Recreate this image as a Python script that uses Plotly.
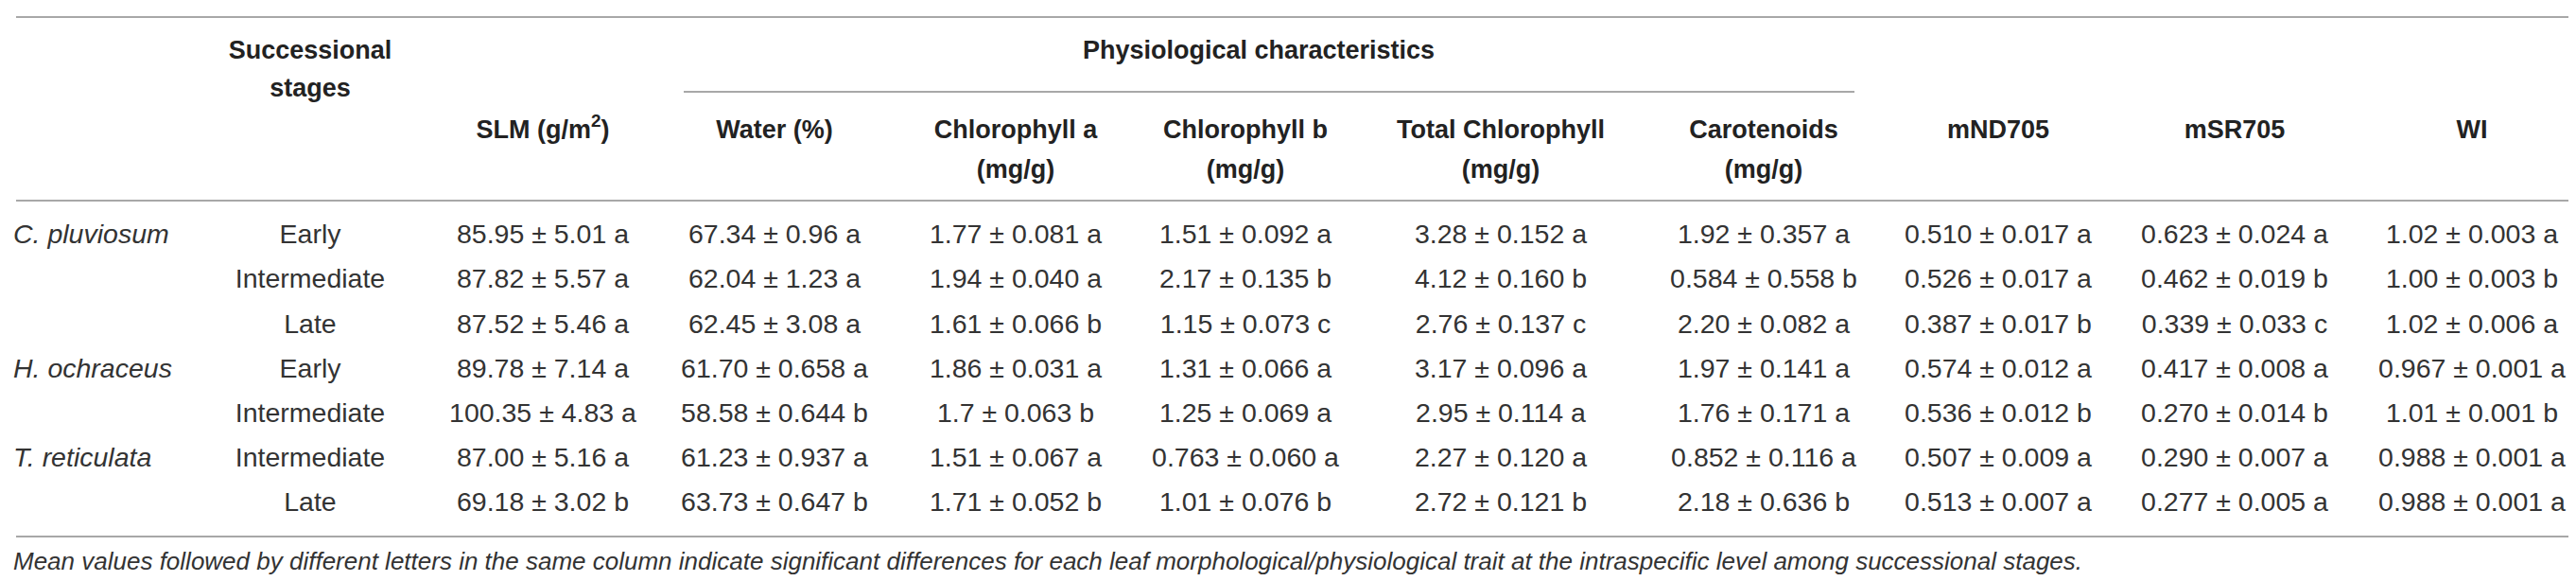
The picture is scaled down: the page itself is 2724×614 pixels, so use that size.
import plotly.graph_objs as go

# table content
species = ['C. pluviosum', '', '', 'H. ochraceus', '', 'T. reticulata', '']
stages = ['Early', 'Intermediate', 'Late', 'Early', 'Intermediate', 'Intermediate', 'Late']

slm = ['85.95 ± 5.01 a', '87.82 ± 5.57 a', '87.52 ± 5.46 a', '89.78 ± 7.14 a',
       '100.35 ± 4.83 a', '87.00 ± 5.16 a', '69.18 ± 3.02 b']
water = ['67.34 ± 0.96 a', '62.04 ± 1.23 a', '62.45 ± 3.08 a', '61.70 ± 0.658 a',
         '58.58 ± 0.644 b', '61.23 ± 0.937 a', '63.73 ± 0.647 b']
chl_a = ['1.77 ± 0.081 a', '1.94 ± 0.040 a', '1.61 ± 0.066 b', '1.86 ± 0.031 a',
         '1.7 ± 0.063 b', '1.51 ± 0.067 a', '1.71 ± 0.052 b']
chl_b = ['1.51 ± 0.092 a', '2.17 ± 0.135 b', '1.15 ± 0.073 c', '1.31 ± 0.066 a',
         '1.25 ± 0.069 a', '0.763 ± 0.060 a', '1.01 ± 0.076 b']
chl_total = ['3.28 ± 0.152 a', '4.12 ± 0.160 b', '2.76 ± 0.137 c', '3.17 ± 0.096 a',
             '2.95 ± 0.114 a', '2.27 ± 0.120 a', '2.72 ± 0.121 b']
carotenoids = ['1.92 ± 0.357 a', '0.584 ± 0.558 b', '2.20 ± 0.082 a', '1.97 ± 0.141 a',
               '1.76 ± 0.171 a', '0.852 ± 0.116 a', '2.18 ± 0.636 b']
mnd705 = ['0.510 ± 0.017 a', '0.526 ± 0.017 a', '0.387 ± 0.017 b', '0.574 ± 0.012 a',
          '0.536 ± 0.012 b', '0.507 ± 0.009 a', '0.513 ± 0.007 a']
msr705 = ['0.623 ± 0.024 a', '0.462 ± 0.019 b', '0.339 ± 0.033 c', '0.417 ± 0.008 a',
          '0.270 ± 0.014 b', '0.290 ± 0.007 a', '0.277 ± 0.005 a']
wi = ['1.02 ± 0.003 a', '1.00 ± 0.003 b', '1.02 ± 0.006 a', '0.967 ± 0.001 a',
      '1.01 ± 0.001 b', '0.988 ± 0.001 a', '0.988 ± 0.001 a']

header_line1 = ['SLM (g/m<sup>2</sup>)', 'Water (%)', 'Chlorophyll a', 'Chlorophyll b',
                'Total Chlorophyll', 'Carotenoids', 'mND705', 'mSR705', 'WI']
header_line2 = ['', '', '(mg/g)', '(mg/g)', '(mg/g)', '(mg/g)', '', '', '']
group_header = 'Physiological characteristics'
stage_header = ['Successional', 'stages']
footnote = ('Mean values followed by different letters in the same column indicate significant '
            'differences for each leaf morphological/physiological trait at the intraspecific '
            'level among successional stages.')

# layout (pixels)
W, H = 2724, 614
col_x = [566, 811, 1066, 1309, 1579, 1857, 2105, 2355, 2606]
species_x = 6
stage_x = 320
group_x = 1323
row0, row_h = 242, 47.2
text_color = '#333333'
head_color = '#222222'
rule_color = '#a8a8a8'
body_font = 'Liberation Sans, Arial, sans-serif'
body_size = 28.5
head_size = 27

value_cols = [slm, water, chl_a, chl_b, chl_total, carotenoids, mnd705, msr705, wi]
row_y = [row0 + i * row_h for i in range(len(stages))]

traces = []
sp_rows = [(s, y) for s, y in zip(species, row_y) if s]
traces.append(go.Scatter(
    x=[species_x] * len(sp_rows), y=[y for s, y in sp_rows],
    text=['<i>%s</i>' % s for s, y in sp_rows],
    mode='text', textposition='middle right',
    textfont=dict(family=body_font, size=body_size, color=text_color)
))
traces.append(go.Scatter(
    x=[stage_x] * len(stages), y=row_y, text=stages,
    mode='text', textposition='middle center',
    textfont=dict(family=body_font, size=body_size, color=text_color)
))
for x, col in zip(col_x, value_cols):
    traces.append(go.Scatter(
        x=[x] * len(col), y=row_y, text=col,
        mode='text', textposition='middle center',
        textfont=dict(family=body_font, size=body_size, color=text_color)
    ))

# headers
traces.append(go.Scatter(
    x=[stage_x, stage_x, group_x], y=[47, 87, 47],
    text=['<b>%s</b>' % t for t in stage_header + [group_header]],
    mode='text', textposition='middle center',
    textfont=dict(family=body_font, size=head_size, color=head_color)
))
traces.append(go.Scatter(
    x=col_x, y=[131] * len(col_x),
    text=['<b>%s</b>' % t for t in header_line1],
    mode='text', textposition='middle center',
    textfont=dict(family=body_font, size=head_size, color=head_color)
))
sub = [(x, t) for x, t in zip(col_x, header_line2) if t]
traces.append(go.Scatter(
    x=[x for x, t in sub], y=[173] * len(sub),
    text=['<b>%s</b>' % t for x, t in sub],
    mode='text', textposition='middle center',
    textfont=dict(family=body_font, size=head_size, color=head_color)
))

traces.append(go.Scatter(
    x=[species_x], y=[587], text=['<i>%s</i>' % footnote],
    mode='text', textposition='middle right',
    textfont=dict(family=body_font, size=26, color=text_color)
))

line = dict(color=rule_color, width=2)
shapes = [
    dict(type='line', xref='x', yref='y', x0=9, x1=2716, y0=10, y1=10, line=line),
    dict(type='line', xref='x', yref='y', x0=715, x1=1953, y0=89, y1=89, line=line),
    dict(type='line', xref='x', yref='y', x0=9, x1=2716, y0=204, y1=204, line=line),
    dict(type='line', xref='x', yref='y', x0=9, x1=2716, y0=559, y1=559, line=line),
]

layout = go.Layout(
    width=W, height=H,
    margin=dict(l=0, r=0, t=0, b=0),
    paper_bgcolor='white', plot_bgcolor='white',
    showlegend=False,
    xaxis=dict(range=[0, W], visible=False, fixedrange=True),
    yaxis=dict(range=[H, 0], visible=False, fixedrange=True),
    shapes=shapes,
)
fig = go.Figure(data=traces, layout=layout)
fig.write_html('out.html')
